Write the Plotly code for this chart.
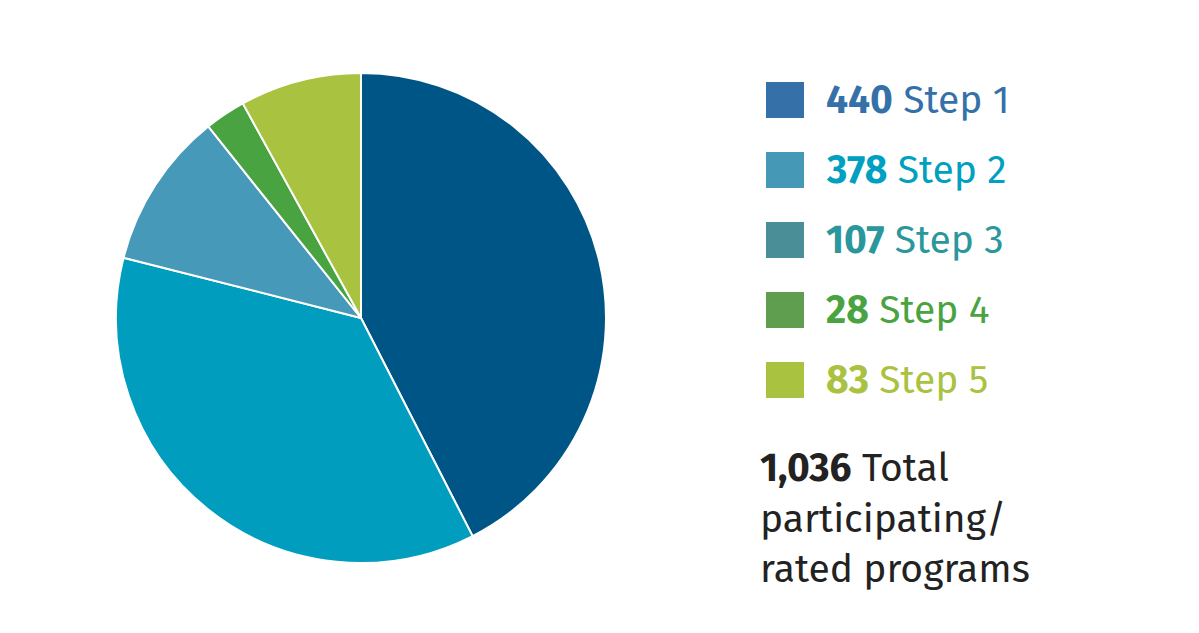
import plotly.graph_objects as go

steps = ["Step 1", "Step 2", "Step 3", "Step 4", "Step 5"]
counts = [440, 378, 107, 28, 83]
total_label = "1,036"
pie_colors = ["#005587", "#009dbf", "#4799b9", "#4aa341", "#a9c23f"]
swatch_colors = ["#3571a8", "#4599b7", "#4a8f98", "#5e9e4e", "#a9c23f"]
text_colors = ["#3571a8", "#00a0c0", "#2a979c", "#4aa341", "#a9c23f"]

W, H = 1199, 633
OFF = 8  # page body margin
FONT = "Fira Sans, Noto Sans, Open Sans, sans-serif"


def px(x):
    return (x - OFF) / W


def py(y):
    return 1 - (y - OFF) / H


fig = go.Figure(go.Pie(
    labels=steps, values=counts, sort=False, direction="clockwise", rotation=0,
    marker=dict(colors=pie_colors, line=dict(color="white", width=2)),
    textinfo="none", hoverinfo="label+value", showlegend=False,
    domain=dict(x=[px(116), px(606)], y=[py(563), py(73)]),
))

shapes = []
annotations = []
y0 = 100
dy = 70
for i, (s, c) in enumerate(zip(steps, counts)):
    yc = y0 + i * dy
    shapes.append(dict(type="rect", xref="paper", yref="paper",
                       x0=px(766), x1=px(804), y0=py(yc + 18), y1=py(yc - 18),
                       fillcolor=swatch_colors[i], line=dict(width=0)))
    annotations.append(dict(xref="paper", yref="paper", x=px(824), y=py(yc),
                            xanchor="left", yanchor="middle", showarrow=False,
                            text=f"<b>{c}</b> {s}",
                            font=dict(family=FONT, size=39, color=text_colors[i])))

annotations.append(dict(xref="paper", yref="paper", x=px(758), y=py(518),
                        xanchor="left", yanchor="middle", showarrow=False, align="left",
                        text=f"<b>{total_label}</b> Total<br>participating/<br>rated programs",
                        font=dict(family=FONT, size=39, color="#222222")))

fig.update_layout(width=W, height=H, margin=dict(l=0, r=0, t=0, b=0),
                  paper_bgcolor="white", plot_bgcolor="white",
                  shapes=shapes, annotations=annotations)

fig.write_html("out.html")
